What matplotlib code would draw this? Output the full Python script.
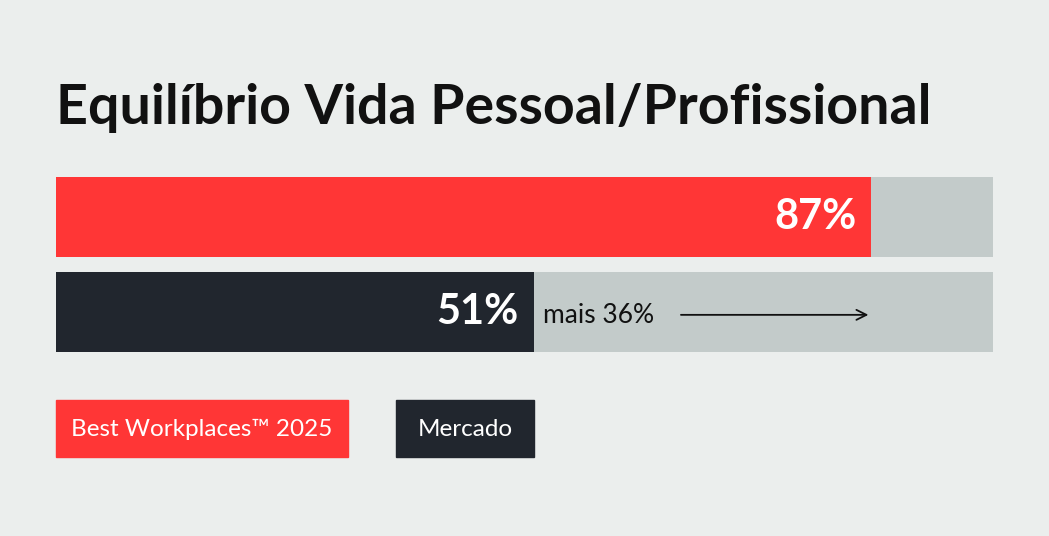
import matplotlib
matplotlib.use("Agg")
import matplotlib.pyplot as plt
from matplotlib.patches import Rectangle

# Data
title = "Equilíbrio Vida Pessoal/Profissional"
categories = ["Best Workplaces™ 2025", "Mercado"]
values = [87, 51]
diff_label = "mais 36%"
max_value = 100

BG = "#ebeeed"
TRACK = "#c3cbca"
colors = ["#ff3636", "#21262e"]

W, H = 1049, 536
fig = plt.figure(figsize=(W / 100, H / 100), dpi=100, facecolor=BG)

def fx(px):
    return px / W

def fy(py):
    return 1 - py / H

# Title
fig.text(fx(56), fy(108), title, fontsize=40, fontweight="bold", family="Lato",
         color="#111111", va="center", ha="left")

# Bars axes
left, right, top, bottom = 56, 993, 177, 352
ax = fig.add_axes([fx(left), fy(bottom), fx(right - left), (bottom - top) / H])
ax.set_facecolor(BG)
h = 80 / 95
ypos = list(range(len(values)))
ax.barh(ypos, [max_value] * len(values), height=h, color=TRACK, edgecolor="none")
ax.barh(ypos, values, height=h, color=colors, edgecolor="none")
ax.set_xlim(0, max_value)
ax.set_ylim(len(values) - 1 + h / 2, -h / 2)
ax.axis("off")

for y, v in zip(ypos, values):
    ax.text(v - 1.6, y, f"{v}%", color="white", fontsize=30, fontweight="bold",
            family="Lato", ha="right", va="center")

# difference annotation on second bar
ax.text(values[1] + 1.0, 1.04, diff_label, color="#111111", fontsize=19, family="Lato",
        ha="left", va="center")
ax.annotate("", xy=(values[0], 1.03), xytext=(values[1] + 15.4, 1.03),
            arrowprops=dict(arrowstyle="->", color="#111111", lw=1.3,
                            mutation_scale=18))

# Legend boxes
legend_boxes = [(56, 348), (396, 534)]
for (x0, x1), lab, c in zip(legend_boxes, categories, colors):
    fig.patches.append(Rectangle((fx(x0), fy(457)), fx(x1 - x0), (457 - 400) / H,
                                 transform=fig.transFigure, color=c, zorder=1))
    fig.text(fx((x0 + x1) / 2), fy(429), lab, color="white", fontsize=17.5,
             family="Lato", fontweight="normal", ha="center", va="center", zorder=2)

fig.savefig("out.png", dpi=100, facecolor=BG)
